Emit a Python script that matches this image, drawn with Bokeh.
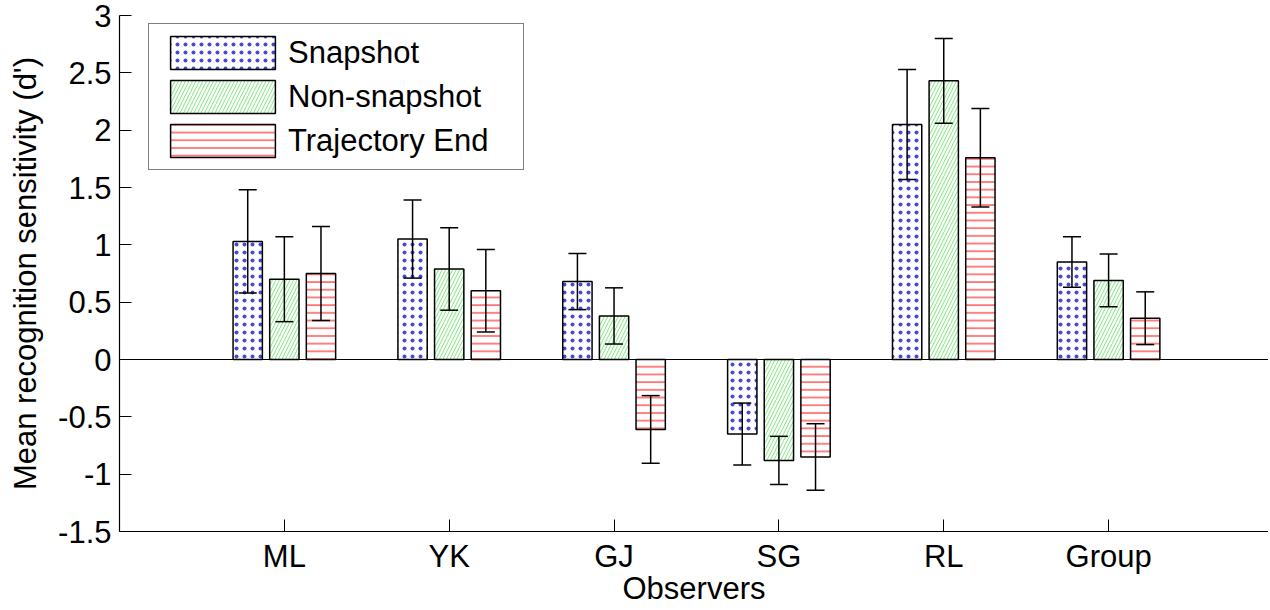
from bokeh.plotting import figure
from bokeh.models import (ColumnDataSource, FixedTicker, Range1d, Span, Whisker,
                          TeeHead, Legend, LegendItem)
from bokeh.embed import file_html
from bokeh.resources import INLINE

# ---- data ----
categories = ["ML", "YK", "GJ", "SG", "RL", "Group"]
snapshot = [1.03, 1.05, 0.68, -0.65, 2.05, 0.85]
snapshot_err = [0.45, 0.34, 0.245, 0.27, 0.48, 0.22]
non_snapshot = [0.70, 0.79, 0.38, -0.88, 2.43, 0.69]
non_snapshot_err = [0.37, 0.36, 0.245, 0.21, 0.37, 0.23]
trajectory_end = [0.75, 0.60, -0.61, -0.85, 1.76, 0.36]
trajectory_end_err = [0.41, 0.36, 0.295, 0.29, 0.43, 0.23]
series_names = ["Snapshot", "Non-snapshot", "Trajectory End"]
y_ticks = [-1.5, -1.0, -0.5, 0.0, 0.5, 1.0, 1.5, 2.0, 2.5, 3.0]
y_tick_labels = ["-1.5", "-1", "-0.5", "0", "0.5", "1", "1.5", "2", "2.5", "3"]
x_label = "Observers"
y_label = "Mean recognition sensitivity (d')"

FONT = "Liberation Sans"
FS = "31px"

p = figure(width=1268, height=608, output_backend="svg", toolbar_location=None,
           x_range=Range1d(0, 6.97), y_range=Range1d(-1.5, 3.0),
           min_border_left=119, min_border_right=0, min_border_top=15,
           min_border_bottom=77)
p.background_fill_color = "white"
p.border_fill_color = "white"
p.outline_line_color = None
p.grid.visible = False

group_pos = [i + 1 for i in range(len(categories))]
offsets = [-0.2222, 0.0, 0.2222]
bar_w = 0.1778

styles = [
    dict(hatch_pattern="dot", hatch_color="#2828d0", hatch_scale=8, hatch_weight=0.8, hatch_alpha=0.85),
    dict(hatch_pattern="right_diagonal_line", hatch_color="#5ee05e", hatch_scale=7, hatch_weight=0.8),
    dict(hatch_pattern="horizontal_line", hatch_color="#ff3030", hatch_scale=7.7, hatch_weight=1.2),
]
values = [snapshot, non_snapshot, trajectory_end]
errors = [snapshot_err, non_snapshot_err, trajectory_end_err]

renderers = []
for k in range(3):
    xs = [g + offsets[k] for g in group_pos]
    src = ColumnDataSource(dict(
        x=xs, top=values[k],
        upper=[v + e for v, e in zip(values[k], errors[k])],
        lower=[v - e for v, e in zip(values[k], errors[k])],
    ))
    r = p.vbar(x="x", top="top", bottom=0, width=bar_w, source=src,
               fill_color="white", line_color="black", line_width=1.5,
               **styles[k])
    renderers.append(r)
    p.add_layout(Whisker(source=src, base="x", upper="upper", lower="lower",
                         level="overlay", line_color="black", line_width=1.5,
                         upper_head=TeeHead(size=18, line_color="black", line_width=1.5),
                         lower_head=TeeHead(size=18, line_color="black", line_width=1.5)))

p.add_layout(Span(location=0, dimension="width", line_color="black", line_width=1.2))

# axes
for ax in (p.xaxis[0], p.yaxis[0]):
    ax.major_tick_in = 12
    ax.major_tick_out = 0
    ax.minor_tick_line_color = None
    ax.axis_line_color = "black"
    ax.axis_line_width = 1.2
    ax.major_tick_line_color = "black"
    ax.major_label_text_font = FONT
    ax.major_label_text_font_size = FS
    ax.major_label_text_color = "black"
    ax.axis_label_text_font = FONT
    ax.axis_label_text_font_size = FS
    ax.axis_label_text_font_style = "normal"
    ax.axis_label_text_color = "black"
    ax.major_label_standoff = 8

p.xaxis.ticker = FixedTicker(ticks=group_pos)
p.xaxis.major_label_overrides = {g: c for g, c in zip(group_pos, categories)}
p.xaxis.major_label_standoff = 7
p.xaxis.axis_label = x_label
p.xaxis.axis_label_standoff = -6

p.yaxis.ticker = FixedTicker(ticks=y_ticks)
p.yaxis.major_label_overrides = {t: s for t, s in zip(y_ticks, y_tick_labels)}
p.yaxis.axis_label = y_label
p.yaxis.axis_label_standoff = 12

legend = Legend(items=[LegendItem(label=n, renderers=[r]) for n, r in zip(series_names, renderers)],
                location=(29, 361), orientation="vertical",
                glyph_width=131, glyph_height=41, label_standoff=0,
                label_text_font=FONT, label_text_font_size=FS,
                label_text_color="black", padding=8, margin=0, spacing=3,
                border_line_color="black", border_line_width=1.2,
                background_fill_color="white", background_fill_alpha=1.0,
                label_width=227)
p.add_layout(legend, "center")

open("out.html", "w").write(file_html(p, INLINE))
